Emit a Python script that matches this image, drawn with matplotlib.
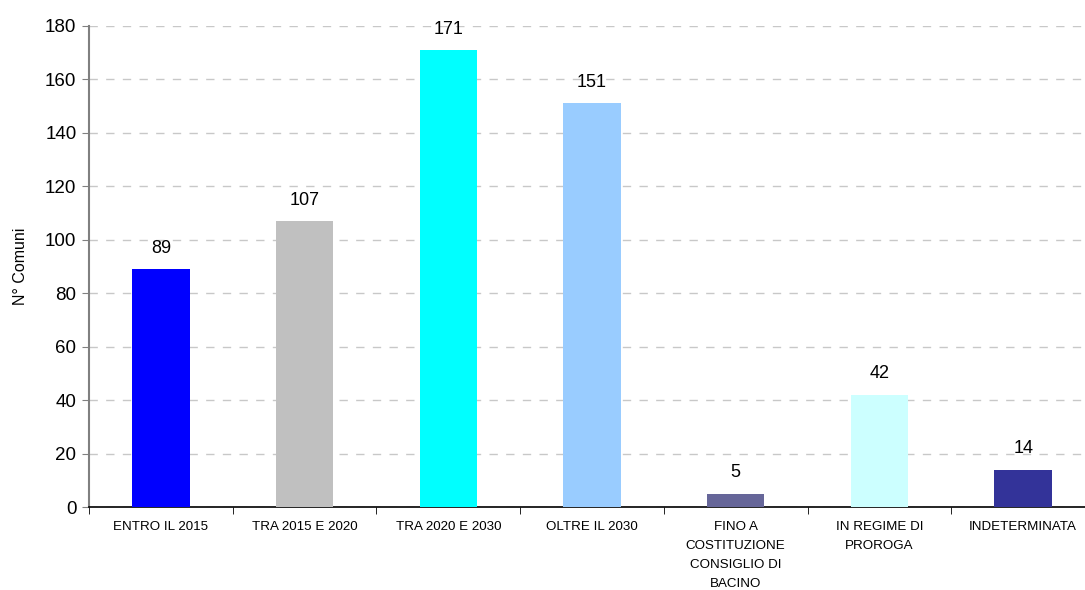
import matplotlib
matplotlib.use("Agg")
import matplotlib.pyplot as plt
import numpy as np

categories = ["ENTRO IL 2015", "TRA 2015 E 2020", "TRA 2020 E 2030", "OLTRE IL 2030",
              "FINO A\nCOSTITUZIONE\nCONSIGLIO DI\nBACINO", "IN REGIME DI\nPROROGA", "INDETERMINATA"]
values = [89, 107, 171, 151, 5, 42, 14]
colors = ["#0000FF", "#C0C0C0", "#00FFFF", "#99CCFF", "#666699", "#CCFFFF", "#333399"]
y_ticks = [0, 20, 40, 60, 80, 100, 120, 140, 160, 180]

plt.rcParams['font.family'] = ['Liberation Sans', 'DejaVu Sans']

fig = plt.figure(figsize=(10.85, 5.9), dpi=100)
ax = fig.add_axes([89/1085, 1 - 507/590, 1006/1085, 481/590])

x = np.arange(len(categories))
ax.bar(x, values, width=0.4, color=colors, zorder=3)
for xi, v in zip(x, values):
    ax.annotate(str(v), (xi, v), xytext=(0, 9), textcoords="offset points",
                ha="center", va="bottom", fontsize=13, color="black")

ax.set_xlim(-0.5, len(categories) - 0.5)
ax.set_ylim(0, 180)
ax.set_yticks(y_ticks)
ax.set_yticklabels([str(t) for t in y_ticks], fontsize=13.5)
ax.yaxis.grid(True, linestyle=(0, (6, 6)), color="#C8C8C8", linewidth=1, zorder=0)

ax.set_xticks(x)
ax.set_xticklabels(categories, fontsize=9.6, linespacing=1.8)
ax.set_xticks(np.arange(len(categories) + 1) - 0.5, minor=True)
ax.tick_params(axis="x", which="major", length=0, pad=10)
ax.tick_params(axis="x", which="minor", length=5, direction="out", color="black")
ax.tick_params(axis="y", length=5, direction="out", color="#808080", pad=4)

for s in ["top", "right"]:
    ax.spines[s].set_visible(False)
ax.spines["left"].set_color("#808080")
ax.spines["left"].set_linewidth(1.5)
ax.spines["bottom"].set_color("black")
ax.spines["bottom"].set_linewidth(1.2)

ax.set_ylabel("N° Comuni", fontsize=11.5, labelpad=12)

fig.savefig("out.png", dpi=100)
